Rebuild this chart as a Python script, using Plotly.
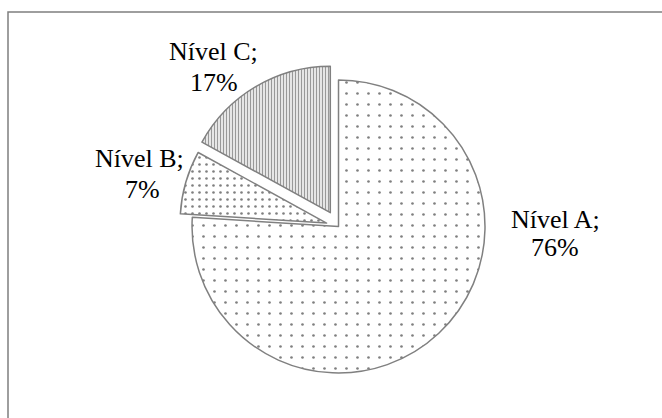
import plotly.graph_objects as go

# Distribution by level
levels = ["Nível A", "Nível B", "Nível C"]
shares = [76, 7, 17]
pulls = [0.0, 0.085, 0.11]

# Hatch fills for each slice
pattern_shapes = [".", ".", "|"]
pattern_sizes = [11, 7, 3]
pattern_solidity = [0.045, 0.11, 0.5]
pattern_colors = ["#000000", "#000000", "#333333"]

W, H = 662, 418
FONT = "Liberation Serif"

fig = go.Figure(
    go.Pie(
        labels=levels,
        values=shares,
        sort=False,
        direction="clockwise",
        rotation=0,
        pull=pulls,
        textinfo="none",
        hoverinfo="label+percent",
        showlegend=False,
        domain=dict(x=[0.2657, 0.7570], y=[0.0691, 0.8471]),
        marker=dict(
            colors=["white"] * 3,
            line=dict(color="#808080", width=1.5),
            pattern=dict(
                shape=pattern_shapes,
                size=pattern_sizes,
                solidity=pattern_solidity,
                fgcolor=pattern_colors,
                bgcolor="white",
                fillmode="overlay",
            ),
        ),
    )
)

# Label anchor points (pixels) for the two text lines of each slice
label_pos = {
    "Nível A": [(555, 219), (555, 247)],
    "Nível B": [(139, 159), (142, 189)],
    "Nível C": [(214, 51), (214, 82)],
}

total = sum(shares)
annotations = []
for name, val in zip(levels, shares):
    pct = round(100 * val / total)
    lines = [f"{name};", f"{pct}%"]
    for text, (px, py) in zip(lines, label_pos[name]):
        annotations.append(
            dict(
                text=text,
                x=px / W,
                y=1 - py / H,
                xref="paper",
                yref="paper",
                xanchor="center",
                yanchor="middle",
                showarrow=False,
                font=dict(family=FONT, size=26, color="#000000"),
            )
        )

fig.update_layout(
    width=W,
    height=H,
    margin=dict(l=0, r=0, t=0, b=0),
    paper_bgcolor="white",
    plot_bgcolor="white",
    annotations=annotations,
    shapes=[
        dict(
            type="rect",
            xref="paper",
            yref="paper",
            x0=8 / W,
            y0=-0.05,
            x1=1.05,
            y1=1 - 12 / H,
            line=dict(color="#7f7f7f", width=1.5),
            fillcolor="rgba(0,0,0,0)",
            layer="below",
        )
    ],
)

fig.write_html("out.html")
